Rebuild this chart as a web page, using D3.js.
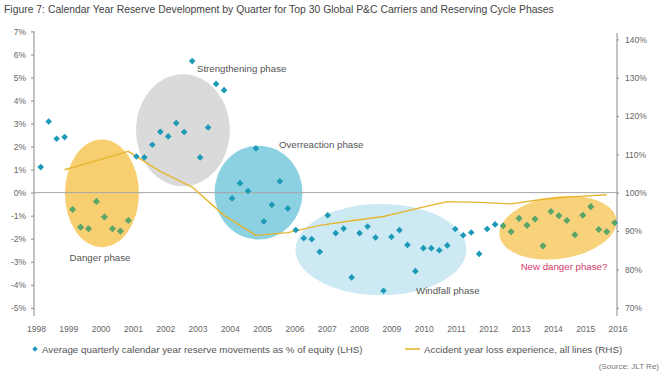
<!DOCTYPE html>
<html>
<head>
<meta charset="utf-8">
<script src="https://cdn.jsdelivr.net/npm/d3@7"></script>
<style>
  body { margin: 0; background: #fff; }
  svg { display: block; font-family: "Liberation Sans", Arial, sans-serif; }
</style>
</head>
<body>
<svg id="chart" width="664" height="376"></svg>
<script>
// Quarterly reserve movements, % of equity (LHS), 1998 Q1 .. 2016 Q1
const firstYear = 1998;
const reserveMoves = [
  1.11, 3.09, 2.34, 2.41,
  -0.73, -1.50, -1.57, -0.38,
  -1.06, -1.57, -1.67, -1.21,
  1.57, 1.53, 2.08, 2.64,
  2.44, 3.02, 2.63, 5.71,
  1.53, 2.83, 4.72, 4.45,
  -0.25, 0.41, 0.07, 1.92,
  -1.25, -0.53, 0.49, -0.69,
  -1.62, -1.98, -2.02, -2.57,
  -0.98, -1.76, -1.56, -3.68,
  -1.76, -1.47, -1.95, -4.26,
  -1.92, -1.63, -2.27, -3.41,
  -2.41, -2.41, -2.50, -2.29,
  -1.58, -1.85, -1.73, -2.66,
  -1.58, -1.38, -1.44, -1.70,
  -1.12, -1.42, -1.15, -2.31,
  -0.82, -1.00, -1.21, -1.83,
  -0.98, -0.61, -1.60, -1.70,
  -1.31
];

// Accident year loss experience, all lines (RHS), plotted at Q4 of each year
const lossYears = [1998, 1999, 2000, 2001, 2002, 2003, 2004, 2005, 2006,
                   2007, 2008, 2009, 2010, 2011, 2012, 2013, 2014, 2015];
const lossRatio = [106.0, 108.4, 110.8, 105.6, 101.5, 94.1, 88.9, 89.6, 91.5,
                   92.7, 93.8, 95.8, 97.7, 97.5, 97.1, 98.3, 99.0, 99.5];

const yearLabels = d3.range(1998, 2017);
const leftTicks = d3.range(-5, 8);
const rightTicks = d3.range(70, 150, 10);

// Reserving cycle phases (centre date / value, radii in years / % points)
const phases = [
  { name: 'Windfall', date: 2008.67, value: -2.47, rx: 2.68, ry: 1.98, rot: 0, fill: '#cdeaf4', warm: false },
  { name: 'Danger', date: 1999.92, value: -0.03, rx: 1.16, ry: 2.34, rot: 0, fill: '#f8cf70', warm: true },
  { name: 'Strengthening', date: 2002.46, value: 2.71, rx: 1.47, ry: 2.43, rot: 0, fill: '#dadada', warm: false },
  { name: 'Overreaction', date: 2004.83, value: 0.0, rx: 1.38, ry: 2.04, rot: 0, fill: '#8bd1e2', warm: false },
  { name: 'New danger', date: 2014.22, value: -1.52, rx: 1.85, ry: 1.35, rot: -8, fill: '#f8d27a', warm: true }
];

const phaseLabels = [
  { text: 'Danger phase', date: 1999.86, value: -2.97, anchor: 'middle', color: '#555' },
  { text: 'Strengthening phase', date: 2002.90, value: 5.24, anchor: 'start', color: '#555' },
  { text: 'Overreaction phase', date: 2005.47, value: 1.94, anchor: 'start', color: '#555' },
  { text: 'Windfall phase', date: 2009.77, value: -4.40, anchor: 'start', color: '#555' },
  { text: 'New danger phase?', date: 2014.41, value: -3.36, anchor: 'middle', color: '#d2386a' }
];

const teal = '#1d9ab6';
const green = '#5fa661';
const gold = '#e6b530';

const svg = d3.select('#chart');

// Scales
const x = d3.scaleLinear().domain([1998, 2016]).range([40.7, 614.7]);
const xYear = d3.scaleLinear().domain([1998, 2016]).range([36, 617.5]);
const yL = d3.scaleLinear().domain([-5, 7]).range([307.8, 31.4]);
const yR = d3.scaleLinear().domain([70, 140]).range([307.8, 39.4]);

const plotLeft = 34;
const plotRight = 617;

// Title
svg.append('text')
  .attr('x', 4)
  .attr('y', 13)
  .attr('font-size', 10.4)
  .attr('fill', '#444')
  .text('Figure 7: Calendar Year Reserve Development by Quarter for Top 30 Global P&C Carriers and Reserving Cycle Phases');

// Phase ellipses
const ellipseAttrs = sel => sel
  .attr('cx', 0).attr('cy', 0)
  .attr('rx', d => x(firstYear + d.rx) - x(firstYear))
  .attr('ry', d => yL(0) - yL(d.ry))
  .attr('transform', d => `translate(${x(d.date)},${yL(d.value)}) rotate(${d.rot})`);

svg.append('g')
  .selectAll('ellipse')
  .data(phases)
  .join('ellipse')
  .call(ellipseAttrs)
  .attr('fill', d => d.fill);

// Clip for markers that sit inside the warm (yellow) phases
svg.append('defs')
  .append('clipPath')
  .attr('id', 'warm-clip')
  .selectAll('ellipse')
  .data(phases.filter(d => d.warm))
  .join('ellipse')
  .call(ellipseAttrs);

// Zero line
svg.append('line')
  .attr('x1', plotLeft).attr('x2', plotRight)
  .attr('y1', yL(0)).attr('y2', yL(0))
  .attr('stroke', '#a6a6a6')
  .attr('stroke-width', 1);

// Left axis
const leftAxis = svg.append('g')
  .attr('transform', `translate(${plotLeft},0)`)
  .call(d3.axisLeft(yL).tickValues(leftTicks).tickSize(3).tickPadding(5).tickFormat(d => d + '%'));
leftAxis.select('.domain').remove();
leftAxis.selectAll('line').attr('stroke', '#888');
leftAxis.selectAll('text').attr('font-size', 8.5).attr('fill', '#666').attr('font-family', null);
svg.append('line')
  .attr('x1', plotLeft).attr('x2', plotLeft)
  .attr('y1', yL(7)).attr('y2', 316)
  .attr('stroke', '#888');

// Right axis
const rightAxis = svg.append('g')
  .attr('transform', `translate(${plotRight},0)`)
  .call(d3.axisRight(yR).tickValues(rightTicks).tickSize(2).tickPadding(6).tickFormat(d => d + '%'));
rightAxis.select('.domain').remove();
rightAxis.selectAll('line').attr('stroke', '#888');
rightAxis.selectAll('text').attr('font-size', 8.5).attr('fill', '#666').attr('font-family', null);
svg.append('line')
  .attr('x1', plotRight).attr('x2', plotRight)
  .attr('y1', 33).attr('y2', 316)
  .attr('stroke', '#888');

// Year labels
const xAxis = svg.append('g')
  .attr('transform', 'translate(0,320)')
  .call(d3.axisBottom(xYear).tickValues(yearLabels).tickSize(0).tickPadding(6).tickFormat(d3.format('d')));
xAxis.select('.domain').remove();
xAxis.selectAll('text').attr('font-size', 8.5).attr('fill', '#666').attr('font-family', null);

// Loss experience line (RHS)
const lossData = lossYears.map((yr, i) => ({ date: yr + 0.75, value: lossRatio[i] }));
svg.append('path')
  .datum(lossData)
  .attr('fill', 'none')
  .attr('stroke', gold)
  .attr('stroke-width', 1.4)
  .attr('stroke-linejoin', 'round')
  .attr('d', d3.line().x(d => x(d.date)).y(d => yR(d.value)));

// Reserve movement markers (LHS)
const moveData = reserveMoves.map((v, i) => ({ date: firstYear + i / 4, value: v }));
const diamond = d3.symbol().type(d3.symbolSquare).size(22);

svg.append('g')
  .selectAll('path')
  .data(moveData)
  .join('path')
  .attr('d', diamond)
  .attr('transform', d => `translate(${x(d.date)},${yL(d.value)}) rotate(45)`)
  .attr('fill', teal);

svg.append('g')
  .attr('clip-path', 'url(#warm-clip)')
  .selectAll('path')
  .data(moveData)
  .join('path')
  .attr('d', diamond)
  .attr('transform', d => `translate(${x(d.date)},${yL(d.value)}) rotate(45)`)
  .attr('fill', green);

// Phase labels
svg.append('g')
  .selectAll('text')
  .data(phaseLabels)
  .join('text')
  .attr('x', d => x(d.date))
  .attr('y', d => yL(d.value))
  .attr('text-anchor', d => d.anchor)
  .attr('font-size', 9.7)
  .attr('fill', d => d.color)
  .text(d => d.text);

// Legend
const legend = svg.append('g').attr('transform', 'translate(0,349)');
legend.append('path')
  .attr('d', d3.symbol().type(d3.symbolSquare).size(14))
  .attr('transform', 'translate(35,0) rotate(45)')
  .attr('fill', teal);
legend.append('text')
  .attr('x', 42).attr('y', 3.5)
  .attr('font-size', 9.8)
  .attr('fill', '#555')
  .text('Average quarterly calendar year reserve movements as % of equity (LHS)');
legend.append('line')
  .attr('x1', 405).attr('x2', 420)
  .attr('stroke', gold)
  .attr('stroke-width', 1.6);
legend.append('text')
  .attr('x', 424).attr('y', 3.5)
  .attr('font-size', 9.8)
  .attr('fill', '#555')
  .text('Accident year loss experience, all lines (RHS)');

// Source
svg.append('text')
  .attr('x', 659).attr('y', 369)
  .attr('text-anchor', 'end')
  .attr('font-size', 8)
  .attr('fill', '#777')
  .text('(Source: JLT Re)');
</script>
</body>
</html>
